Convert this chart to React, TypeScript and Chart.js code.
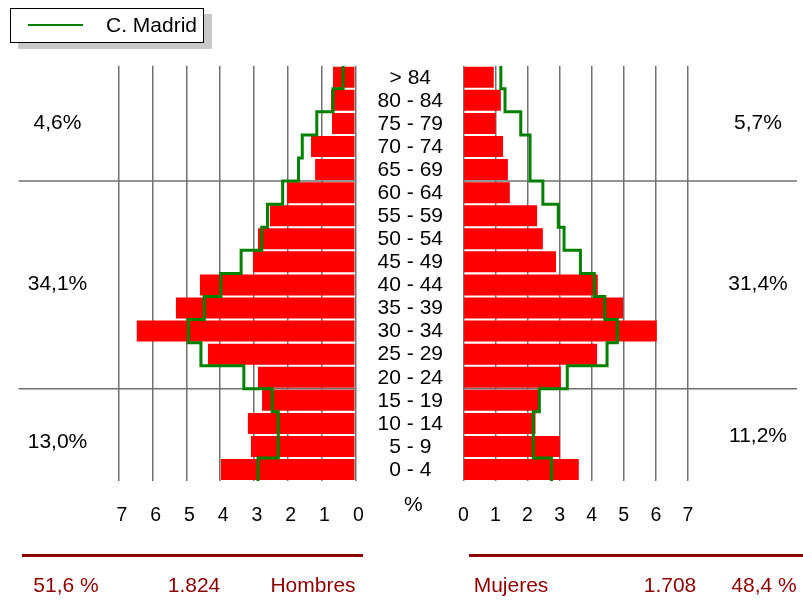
import React, { useEffect, useRef } from 'react';
import { Chart, registerables } from 'chart.js';

Chart.register(...registerables);

// ---------- data ----------
const categories = [
  '> 84', '80 - 84', '75 - 79', '70 - 74', '65 - 69', '60 - 64', '55 - 59', '50 - 54', '45 - 49',
  '40 - 44', '35 - 39', '30 - 34', '25 - 29', '20 - 24', '15 - 19', '10 - 14', '5 - 9', '0 - 4',
];
const hombres = [0.66, 0.72, 0.69, 1.31, 1.19, 2.02, 2.53, 2.88, 3.03, 4.6, 5.31, 6.47, 4.36, 2.88, 2.76, 3.18, 3.09, 3.98];
const madridHombres = [0.36, 0.66, 1.14, 1.57, 1.68, 2.15, 2.6, 2.77, 3.38, 3.98, 4.47, 4.94, 4.57, 3.3, 2.46, 2.28, 2.28, 2.88];
const mujeres = [0.95, 1.17, 1.01, 1.24, 1.39, 1.45, 2.3, 2.48, 2.89, 4.19, 4.98, 6.03, 4.17, 3.04, 2.34, 2.25, 3.01, 3.6];
const madridMujeres = [1.17, 1.3, 1.79, 2.08, 2.08, 2.48, 2.96, 3.14, 3.65, 4.08, 4.41, 4.8, 4.48, 3.24, 2.37, 2.18, 2.18, 2.75];
const tickValues = [0, 1, 2, 3, 4, 5, 6, 7];
const groups = [[0, 4], [5, 13], [14, 17]]; // row index ranges of the age groups
const groupPctHombres = ['4,6%', '34,1%', '13,0%'];
const groupPctMujeres = ['5,7%', '31,4%', '11,2%'];
const legendLabel = 'C. Madrid';
const axisUnit = '%';
const totalHombres = { pct: '51,6 %', count: '1.824', label: 'Hombres' };
const totalMujeres = { pct: '48,4 %', count: '1.708', label: 'Mujeres' };

// ---------- styles ----------
const FONT = '"Liberation Sans", Arial, Helvetica, sans-serif';
const GRID = '#707070';
const RED = '#ff0000';
const GREEN = '#008000';
const DARKRED = '#8b0000';

const stepPoints = (vals: number[]) =>
  vals.flatMap((v, i) => [{ x: v, y: i - 0.5 }, { x: v, y: i + 0.5 }]);

function decorPlugin(side: 'left' | 'right') {
  return {
    id: 'decor' + side,
    beforeDatasetsDraw(chart: any) {
      const { ctx, chartArea: ca, scales } = chart;
      const y = scales.y;
      ctx.save();
      ctx.strokeStyle = GRID;
      ctx.lineWidth = 1.5;
      groups.slice(0, -1).forEach((g) => {
        const py = y.getPixelForValue(g[1] + 0.5);
        ctx.beginPath();
        ctx.moveTo(ca.left, py);
        ctx.lineTo(ca.right, py);
        ctx.stroke();
      });
      ctx.restore();
    },
    afterDraw(chart: any) {
      const { ctx, chartArea: ca, scales } = chart;
      const y = scales.y;
      ctx.save();
      ctx.fillStyle = '#000';
      ctx.textAlign = 'center';
      ctx.textBaseline = 'middle';
      ctx.font = `21px ${FONT}`;
      const pcts = side === 'left' ? groupPctHombres : groupPctMujeres;
      const dys = side === 'left' ? [0, -0.5, 7.5] : [0, -0.5, 1.5];
      const px = side === 'left' ? ca.left + 39 : ca.right - 39;
      groups.forEach((g, k) => {
        const py = y.getPixelForValue((g[0] + g[1]) / 2) + dys[k];
        ctx.fillText(pcts[k], px, py);
      });
      if (side === 'right') {
        ctx.font = `21px ${FONT}`;
        categories.forEach((c, i) => {
          ctx.fillText(c, ca.left - 53, y.getPixelForValue(i) + 0.5);
        });
        ctx.font = `21px ${FONT}`;
        ctx.fillText(axisUnit, ca.left - 50, ca.bottom + 24);
      }
      ctx.restore();
    },
  };
}

function makeConfig(side: 'left' | 'right'): any {
  const isLeft = side === 'left';
  return {
    type: 'bar',
    data: {
      datasets: [
        {
          type: 'line',
          data: stepPoints(isLeft ? madridHombres : madridMujeres),
          borderColor: GREEN,
          borderWidth: 3,
          pointRadius: 0,
          fill: false,
          tension: 0,
          borderJoinStyle: 'miter',
          order: 0,
        },
        {
          type: 'bar',
          data: (isLeft ? hombres : mujeres).map((v, i) => ({ x: v, y: i })),
          backgroundColor: RED,
          borderWidth: 0,
          barPercentage: 0.91,
          categoryPercentage: 1,
          order: 1,
        },
      ],
    },
    options: {
      indexAxis: 'y',
      responsive: false,
      animation: false,
      events: [],
      layout: {
        padding: isLeft
          ? { left: 18.5, right: 803 - 355.3, top: 65.7, bottom: 52.5 }
          : { left: 463.3, right: 6, top: 65.7, bottom: 52.5 },
      },
      plugins: { legend: { display: false }, tooltip: { enabled: false } },
      scales: {
        y: { type: 'linear', min: -0.5, max: 17.5, reverse: true, display: false, offset: false },
        x: {
          type: 'linear',
          min: 0,
          max: isLeft ? 9.97 : 10.4,
          reverse: isLeft,
          offset: false,
          afterBuildTicks: (axis: any) => {
            axis.ticks = tickValues.map((v) => ({ value: v }));
          },
          grid: { color: GRID, lineWidth: 1.5, drawTicks: false },
          border: { display: false },
          ticks: {
            color: '#000',
            font: { family: FONT, size: 19.5 },
            padding: 23,
            maxRotation: 0,
            autoSkip: false,
            labelOffset: isLeft ? 3 : 0,
          },
        },
      },
    },
    plugins: [decorPlugin(side)],
  };
}

const abs = (s: React.CSSProperties): React.CSSProperties => ({ position: 'absolute', ...s });
const footText: React.CSSProperties = {
  position: 'absolute',
  top: 574,
  fontFamily: FONT,
  fontSize: 21,
  lineHeight: '22px',
  color: DARKRED,
  transform: 'translateX(-50%)',
  whiteSpace: 'nowrap',
};

export default function App() {
  const leftRef = useRef<HTMLCanvasElement>(null);
  const rightRef = useRef<HTMLCanvasElement>(null);

  useEffect(() => {
    const l = new Chart(leftRef.current as HTMLCanvasElement, makeConfig('left'));
    const r = new Chart(rightRef.current as HTMLCanvasElement, makeConfig('right'));
    return () => {
      l.destroy();
      r.destroy();
    };
  }, []);

  return (
    <div style={abs({ left: 0, top: 0, width: 803, height: 603, overflow: 'hidden', background: '#fff' })}>
      <canvas ref={leftRef} width={803} height={603} style={abs({ left: 0, top: 0, width: 803, height: 603 })} />
      <canvas ref={rightRef} width={803} height={603} style={abs({ left: 0, top: 0, width: 803, height: 603 })} />

      {/* legend */}
      <div
        style={abs({
          left: 10,
          top: 8,
          width: 194,
          height: 35,
          boxSizing: 'border-box',
          border: '1px solid #000',
          background: '#fff',
          boxShadow: '8px 6px 0 #c8c8c8',
        })}
      >
        <div style={abs({ left: 17, top: 14.5, width: 55, height: 2.5, background: GREEN })} />
        <div style={abs({ left: 95, top: 4, fontFamily: FONT, fontSize: 21, lineHeight: '24px', color: '#000', whiteSpace: 'nowrap' })}>
          {legendLabel}
        </div>
      </div>

      {/* footer */}
      <div style={abs({ left: 22, top: 553.5, width: 341, height: 3, background: DARKRED })} />
      <div style={abs({ left: 469, top: 553.5, width: 334, height: 3, background: DARKRED })} />
      <div style={{ ...footText, left: 66 }}>{totalHombres.pct}</div>
      <div style={{ ...footText, left: 194 }}>{totalHombres.count}</div>
      <div style={{ ...footText, left: 313 }}>{totalHombres.label}</div>
      <div style={{ ...footText, left: 511 }}>{totalMujeres.label}</div>
      <div style={{ ...footText, left: 670 }}>{totalMujeres.count}</div>
      <div style={{ ...footText, left: 764 }}>{totalMujeres.pct}</div>
    </div>
  );
}
